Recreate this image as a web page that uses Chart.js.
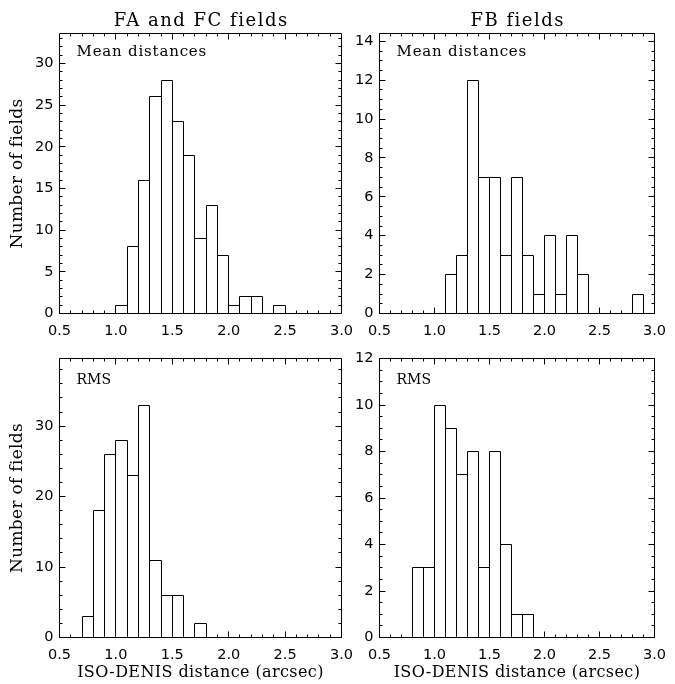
<!DOCTYPE html>
<html><head><meta charset="utf-8">
<script src="https://cdn.jsdelivr.net/npm/chart.js@4.4.0/dist/chart.umd.min.js"></script>
<style>
html,body{margin:0;padding:0;background:#fff;}
#wrap{position:relative;width:675px;height:684px;overflow:hidden;background:#fff;}
canvas{position:absolute;left:0;top:0;}
</style></head><body>
<div id="wrap">
<canvas id="c0" width="675" height="684"></canvas>
<canvas id="c1" width="675" height="684"></canvas>
<canvas id="c2" width="675" height="684"></canvas>
<canvas id="c3" width="675" height="684"></canvas>
</div>
<script>
// ---- data: histogram bin left edges (arcsec, width 0.1) and counts ----
const binWidth = 0.1;
const binsMeanFAFC   = [1.0,1.1,1.2,1.3,1.4,1.5,1.6,1.7,1.8,1.9,2.0,2.1,2.2,2.3,2.4];
const countsMeanFAFC = [1,  8,  16, 26, 28, 23, 19, 9,  13, 7,  1,  2,  2,  0,  1];
const binsMeanFB     = [1.1,1.2,1.3,1.4,1.5,1.6,1.7,1.8,1.9,2.0,2.1,2.2,2.3,2.4,2.5,2.6,2.7,2.8];
const countsMeanFB   = [2,  3,  12, 7,  7,  3,  7,  3,  1,  4,  1,  4,  2,  0,  0,  0,  0,  1];
const binsRmsFAFC    = [0.7,0.8,0.9,1.0,1.1,1.2,1.3,1.4,1.5,1.6,1.7];
const countsRmsFAFC  = [3,  18, 26, 28, 23, 33, 11, 6,  6,  0,  2];
const binsRmsFB      = [0.8,0.9,1.0,1.1,1.2,1.3,1.4,1.5,1.6,1.7,1.8];
const countsRmsFB    = [3,  3,  10, 9,  7,  8,  3,  8,  4,  1,  1];

const xTickValues     = [0.5,1.0,1.5,2.0,2.5,3.0];
const yTicksMeanFAFC  = [0,5,10,15,20,25,30];
const yTicksMeanFB    = [0,2,4,6,8,10,12,14];
const yTicksRmsFAFC   = [0,10,20,30];
const yTicksRmsFB     = [0,2,4,6,8,10,12];
const yMaxMeanFAFC = 33.6, yMaxMeanFB = 14.4, yMaxRmsFAFC = 39.6, yMaxRmsFB = 12;

const columnTitles = ['FA and FC fields', 'FB fields'];
const panelLabels  = ['Mean distances', 'RMS'];
const yAxisTitle = 'Number of fields';
const xAxisTitle = 'ISO-DENIS distance (arcsec)';

// ---- layout ----
const W = 675, H = 684, YW = 50, XH = 30;
const panels = [
  {id:'c0', bins:binsMeanFAFC, counts:countsMeanFAFC, yMax:yMaxMeanFAFC, yTicks:yTicksMeanFAFC, yMinor:1,
   area:{l:59.5, r:341.5, t:33.5, b:313.5}, title:columnTitles[0], label:panelLabels[0], yTitle:true, xTitle:false},
  {id:'c1', bins:binsMeanFB, counts:countsMeanFB, yMax:yMaxMeanFB, yTicks:yTicksMeanFB, yMinor:0.5,
   area:{l:379.5, r:662.5, t:33.5, b:313.5}, title:columnTitles[1], label:panelLabels[0], yTitle:false, xTitle:false},
  {id:'c2', bins:binsRmsFAFC, counts:countsRmsFAFC, yMax:yMaxRmsFAFC, yTicks:yTicksRmsFAFC, yMinor:2,
   area:{l:59.5, r:341.5, t:358.5, b:637.5}, title:null, label:panelLabels[1], yTitle:true, xTitle:true},
  {id:'c3', bins:binsRmsFB, counts:countsRmsFB, yMax:yMaxRmsFB, yTicks:yTicksRmsFB, yMinor:0.5,
   area:{l:379.5, r:662.5, t:358.5, b:637.5}, title:null, label:panelLabels[1], yTitle:false, xTitle:true}
];

const snap = v => Math.round(v - 0.5) + 0.5;

const framePlugin = {
  id: 'histFrame',
  afterDatasetsDraw(chart) {
    const ctx = chart.ctx;
    const meta = chart.getDatasetMeta(0);
    ctx.save();
    ctx.strokeStyle = '#000';
    ctx.lineWidth = 1;
    ctx.beginPath();
    meta.data.forEach(b => {
      const p = b.getProps(['x','y','base','width'], true);
      if (Math.abs(p.base - p.y) < 0.5) return;
      const x0 = snap(p.x - p.width/2), x1 = snap(p.x + p.width/2);
      const y0 = snap(p.y), y1 = snap(p.base);
      ctx.moveTo(x0, y1); ctx.lineTo(x0, y0); ctx.lineTo(x1, y0); ctx.lineTo(x1, y1);
    });
    ctx.stroke();
    ctx.restore();
  },
  afterDraw(chart, args, o) {
    const ctx = chart.ctx;
    const {left, right, top, bottom} = chart.chartArea;
    const xs = chart.scales.x, ys = chart.scales.y;
    const L = snap(left), R = snap(right), T = snap(top), B = snap(bottom);
    ctx.save();
    ctx.strokeStyle = '#000';
    ctx.lineWidth = 1;
    ctx.beginPath();
    ctx.rect(L, T, R - L, B - T);
    // x ticks (minor every 0.1, major every 0.5), bottom and top, inward
    const nx = Math.round((xs.max - xs.min) / 0.1);
    for (let i = 0; i <= nx; i++) {
      const v = xs.min + i * 0.1;
      const major = (i % 5 === 0);
      const len = major ? 6 : 3;
      const px = snap(xs.getPixelForValue(v));
      ctx.moveTo(px, B); ctx.lineTo(px, B - len);
      ctx.moveTo(px, T); ctx.lineTo(px, T + len);
    }
    // y ticks
    const step = o.yMinor;
    const majorStep = o.yTicks[1] - o.yTicks[0];
    const ny = Math.floor(ys.max / step + 1e-9);
    for (let i = 0; i <= ny; i++) {
      const v = i * step;
      const major = Math.abs(v / majorStep - Math.round(v / majorStep)) < 1e-6;
      const len = major ? 6 : 3;
      const py = snap(ys.getPixelForValue(v));
      ctx.moveTo(L, py); ctx.lineTo(L + len, py);
      ctx.moveTo(R, py); ctx.lineTo(R - len, py);
    }
    ctx.stroke();

    ctx.fillStyle = '#000';
    ctx.textBaseline = 'alphabetic';
    const cx = (left + right) / 2;
    if (o.title) {
      ctx.font = '18px "DejaVu Serif"';
      ctx.letterSpacing = '1.5px';
      ctx.textAlign = 'center';
      ctx.fillText(o.title, cx + 0.75, 25.5);
    }
    if (o.label) {
      const isRms = o.label === 'RMS';
      ctx.font = isRms ? '14px "DejaVu Serif"' : '15px "DejaVu Serif"';
      ctx.letterSpacing = isRms ? '0px' : '0.8px';
      ctx.textAlign = 'left';
      ctx.fillText(o.label, left + 17, top + (isRms ? 25 : 22));
    }
    if (o.yTitle) {
      ctx.save();
      ctx.font = '17px "DejaVu Serif"';
      ctx.letterSpacing = '0.3px';
      ctx.textAlign = 'center';
      ctx.translate(22, (top + bottom) / 2);
      ctx.rotate(-Math.PI / 2);
      ctx.fillText(yAxisTitle, 0, 0);
      ctx.restore();
    }
    if (o.xTitle) {
      ctx.font = '16px "DejaVu Serif"';
      ctx.letterSpacing = '0.4px';
      ctx.textAlign = 'center';
      ctx.fillText(xAxisTitle, cx, 677);
    }
    ctx.restore();
  }
};

panels.forEach(pn => {
  const data = pn.bins.map((b, i) => ({x: b + binWidth / 2, y: pn.counts[i]}));
  new Chart(document.getElementById(pn.id), {
    type: 'bar',
    data: { datasets: [{
      data: data,
      backgroundColor: '#ffffff',
      borderWidth: 0,
      barPercentage: 1,
      categoryPercentage: 1
    }]},
    options: {
      responsive: false,
      animation: false,
      devicePixelRatio: 1,
      layout: { padding: { left: pn.area.l - YW, right: W - pn.area.r, top: pn.area.t, bottom: H - pn.area.b - XH } },
      plugins: { legend: {display:false}, tooltip: {enabled:false}, title:{display:false},
        histFrame: { yMinor: pn.yMinor, yTicks: pn.yTicks, title: pn.title, label: pn.label, yTitle: pn.yTitle, xTitle: pn.xTitle } },
      scales: {
        x: {
          type: 'linear', min: 0.5, max: 3.0, offset: false,
          grid: {display:false, drawTicks:false}, border:{display:false},
          afterBuildTicks: s => { s.ticks = xTickValues.map(v => ({value: v})); },
          afterFit: s => { s.height = XH; },
          ticks: { autoSkip:false, maxRotation:0, padding: 9, color:'#000',
            font: {family:'"DejaVu Sans"', size:14.5}, callback: v => Number(v).toFixed(1) }
        },
        y: {
          type: 'linear', min: 0, max: pn.yMax,
          grid: {display:false, drawTicks:false}, border:{display:false},
          afterBuildTicks: s => { s.ticks = pn.yTicks.map(v => ({value: v})); },
          afterFit: s => { s.width = YW; },
          ticks: { autoSkip:false, padding: 6, color:'#000',
            font: {family:'"DejaVu Sans"', size:14.5}, callback: v => String(v) }
        }
      }
    },
    plugins: [framePlugin]
  });
});
</script>
</body></html>
